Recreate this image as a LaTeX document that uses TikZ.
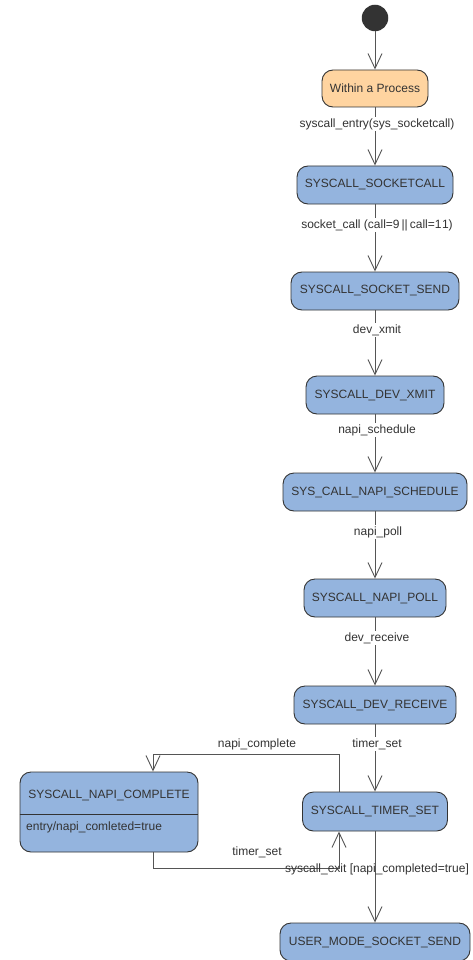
\documentclass[tikz,border=0pt]{standalone}
\usepackage{fontspec}
\setmainfont{Liberation Sans}
\usetikzlibrary{arrows.meta}
\definecolor{statefill}{RGB}{148,180,222}
\definecolor{initfill}{RGB}{255,212,160}
\definecolor{ink}{RGB}{51,51,51}
\definecolor{wire}{RGB}{85,85,85}
\begin{document}
\begin{tikzpicture}[x=1pt,y=-1pt,
  every node/.style={font=\fontsize{12}{14}\selectfont, text=ink},
  state/.style={draw=ink, line width=0.9pt, fill=statefill, rounded corners=11pt,
    minimum height=38pt, inner sep=0pt},
  initstate/.style={state, fill=initfill},
  lbl/.style={fill=white, inner sep=1pt},
  edge/.style={draw=wire, line width=0.9pt,
    -{Straight Barb[length=15pt, width=14pt, line width=0.9pt]}}]
\useasboundingbox (0,0) rectangle (472,960);

% states
\node[circle, fill=ink, minimum size=26.5pt, inner sep=0pt] (start) at (375,18) {};
\node[initstate, minimum width=106pt, minimum height=37pt] (proc) at (375,88.5) {Within a Process};
\node[state, minimum width=156pt] (sock) at (375,185) {SYSCALL\_SOCKETCALL};
\node[state, minimum width=168pt] (send) at (375,291) {SYSCALL\_SOCKET\_SEND};
\node[state, minimum width=138pt] (xmit) at (375,395) {SYSCALL\_DEV\_XMIT};
\node[state, minimum width=184pt] (sched) at (375,492) {SYS\_CALL\_NAPI\_SCHEDULE};
\node[state, minimum width=142pt] (poll) at (375,598) {SYSCALL\_NAPI\_POLL};
\node[state, minimum width=162pt] (recv) at (375,705) {SYSCALL\_DEV\_RECEIVE};
\node[state, minimum width=145pt, minimum height=39pt] (timer) at (375,811.5) {SYSCALL\_TIMER\_SET};
\node[state, minimum width=190pt] (user) at (375,942) {USER\_MODE\_SOCKET\_SEND};

% composite state with an entry action
\node[state, minimum width=178pt, minimum height=80pt] (napi) at (109,812) {};
\draw[draw=ink, line width=0.9pt] (napi.west |- 0,814) -- (napi.east |- 0,814);
\node (napititle) at (109,795) {SYSCALL\_NAPI\_COMPLETE};
\node[anchor=west, inner sep=0pt] (napientry) at (26,827) {entry/napi\_comleted=true};

% transitions
\draw[edge] (start) -- (proc);
\draw[edge] (proc) -- (sock);
\draw[edge] (sock) -- (send);
\draw[edge] (send) -- (xmit);
\draw[edge] (xmit) -- (sched);
\draw[edge] (sched) -- (poll);
\draw[edge] (poll) -- (recv);
\draw[edge] (recv) -- (timer);
\draw[edge] (timer) -- (user);
\draw[edge] ([xshift=-36pt]timer.north) -- ++(0,-37) -| ([xshift=44pt]napi.north);
\draw[edge] ([xshift=44pt]napi.south) -- ++(0,16) -| ([xshift=-36pt]timer.south);

% transition labels
\node[lbl] (l1) at (377,124) {syscall\_entry(sys\_socketcall)};
\node[lbl] (l2) at (377,225) {socket\_call (call=9\,||\,call=1\kern0.5pt1)};
\node[lbl] (l3) at (377,330) {dev\_xmit};
\node[lbl] (l4) at (377,430) {napi\_schedule};
\node[lbl] (l5) at (378,532) {napi\_poll};
\node[lbl] (l6) at (377,638) {dev\_receive};
\node[lbl] (l7) at (377,744) {timer\_set};
\node[lbl] (l8) at (257,744) {napi\_complete};
\node[lbl] (l9) at (257,852) {timer\_set};
\node[lbl, fill=none] (l10) at (377,869) {syscall\_exit [napi\_completed=true]};
\end{tikzpicture}
\end{document}
